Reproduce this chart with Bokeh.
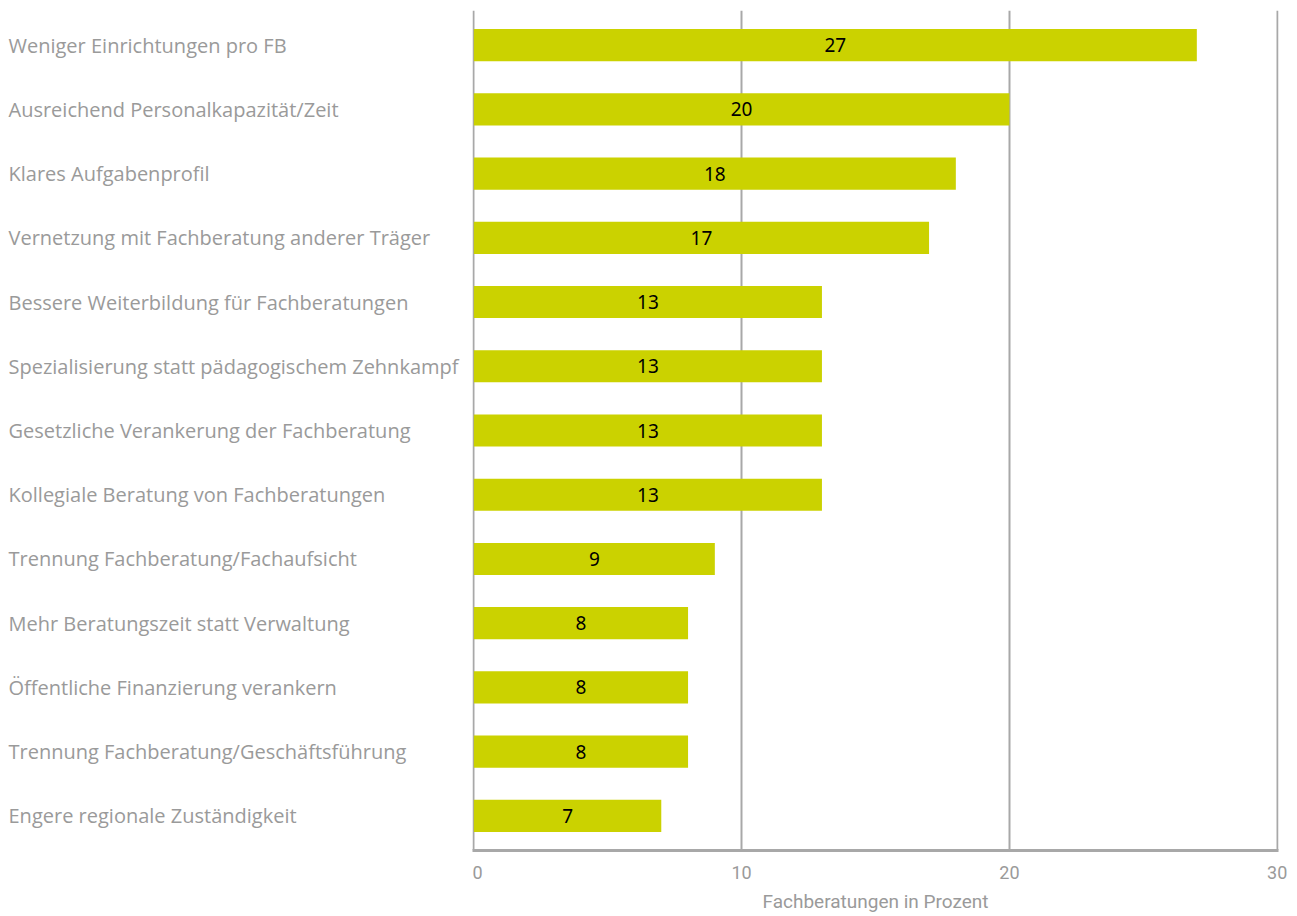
from bokeh.plotting import figure
from bokeh.layouts import row
from bokeh.models import ColumnDataSource, FactorRange, Range1d, FixedTicker
from bokeh.core.properties import value
from bokeh.embed import file_html
from bokeh.resources import INLINE

categories = [
    "Weniger Einrichtungen pro FB",
    "Ausreichend Personalkapazität/Zeit",
    "Klares Aufgabenprofil",
    "Vernetzung mit Fachberatung anderer Träger",
    "Bessere Weiterbildung für Fachberatungen",
    "Spezialisierung statt pädagogischem Zehnkampf",
    "Gesetzliche Verankerung der Fachberatung",
    "Kollegiale Beratung von Fachberatungen",
    "Trennung Fachberatung/Fachaufsicht",
    "Mehr Beratungszeit statt Verwaltung",
    "Öffentliche Finanzierung verankern",
    "Trennung Fachberatung/Geschäftsführung",
    "Engere regionale Zuständigkeit",
]
values = [27, 20, 18, 17, 13, 13, 13, 13, 9, 8, 8, 8, 7]
x_ticks = [0, 10, 20, 30]
axis_title = "Fachberatungen in Prozent"

BAR = "#cbd200"
GRID = "#a8a8a8"
TXT = "#9a9a9a"

LEFT_W = 472
src = ColumnDataSource(dict(
    cat=categories,
    val=values,
    mid=[v / 2 for v in values],
    lab=[str(v) for v in values],
    x0=[8] * len(values),
))

def yr():
    return FactorRange(factors=list(reversed(categories)), range_padding=0.04,
                       range_padding_units="absolute")

FH = 840
TOP = 10

# left panel with category labels
left = figure(width=LEFT_W, frame_height=FH, y_range=yr(), x_range=Range1d(0, LEFT_W),
              x_axis_location=None, y_axis_location=None, toolbar_location=None,
              output_backend="svg", min_border_left=0, min_border_right=0,
              min_border_top=TOP, min_border_bottom=0, outline_line_color=None)
left.xgrid.visible = False
left.ygrid.visible = False
left.text(x="x0", y="cat", text="cat", source=src, text_align="left",
          text_baseline="middle", text_color=TXT, text_font_size="20px",
          text_font=value("Open Sans"))

# right panel with bars
p = figure(width=819, frame_height=FH, y_range=yr(), x_range=Range1d(-0.05, 30.05),
           y_axis_location=None, toolbar_location=None, output_backend="svg",
           min_border_left=0, min_border_right=13, min_border_top=TOP,
           outline_line_color=None)
p.ygrid.visible = False
p.xgrid.ticker = FixedTicker(ticks=x_ticks)
p.xgrid.grid_line_color = GRID
p.xgrid.grid_line_width = 2
p.xaxis.ticker = FixedTicker(ticks=x_ticks)
p.xaxis.axis_line_color = GRID
p.xaxis.axis_line_width = 3
p.xaxis.major_tick_line_color = None
p.xaxis.minor_tick_line_color = None
p.xaxis.major_label_text_color = TXT
p.xaxis.major_label_text_font_size = "18px"
p.xaxis.major_label_text_font = "Roboto"
p.xaxis.major_label_standoff = 9
p.xaxis.axis_label = axis_title
p.xaxis.axis_label_text_color = TXT
p.xaxis.axis_label_text_font_size = "19px"
p.xaxis.axis_label_text_font = "Roboto"
p.xaxis.axis_label_text_font_style = "normal"
p.xaxis.axis_label_standoff = 8

p.hbar(y="cat", right="val", left=0, height=0.5, source=src,
       fill_color=BAR, line_color=None)
p.text(x="mid", y="cat", text="lab", source=src, text_align="center",
       text_baseline="middle", text_color="black", text_font_size="19px",
       text_font=value("Noto Sans"))

layout = row(left, p)
open("out.html", "w").write(file_html(layout, INLINE))
